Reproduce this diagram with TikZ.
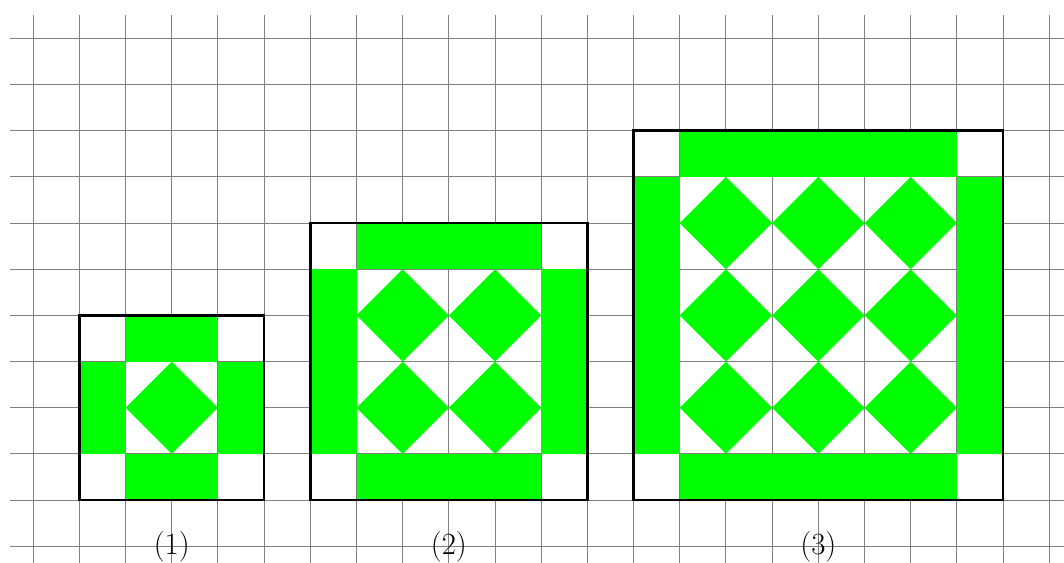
\documentclass[tikz,border=0pt]{standalone}
\usepackage{tikz}
\usetikzlibrary{positioning}
\tikzset{
  gridline/.style={gray, line width=0.6pt},
  band/.style={fill=green, draw=none},
  gem/.style={fill=green, draw=none},
  tilebox/.style={draw=black, line width=1.6pt},
  caption/.style={font=\fontsize{19}{22}\selectfont, inner sep=0pt},
}
\begin{document}
\begin{tikzpicture}
    \clip (-1.72,-1.36) rectangle (21.32,10.83);
    \draw[gridline] (-1.5,-1.5) grid (21.5,10.5);
    % the three tiles: left corner / diamonds per side / label
    \foreach \x/\n/\lab in {0/1/1, 5/2/2, 12/3/3}{
      \pgfmathsetmacro{\s}{2*\n+2}
      \pgfmathsetmacro{\e}{2*\n+1}
      \fill[band] (\x+1,0) rectangle (\x+\e,1);
      \fill[band] (\x+1,\e) rectangle (\x+\e,\s);
      \fill[band] (\x,1) rectangle (\x+1,\e);
      \fill[band] (\x+\e,1) rectangle (\x+\s,\e);
      \foreach \i in {1,...,\n}{
        \foreach \j in {1,...,\n}{
          \fill[gem] (\x+2*\i,2*\j-1) -- (\x+2*\i+1,2*\j)
                     -- (\x+2*\i,2*\j+1) -- (\x+2*\i-1,2*\j) -- cycle;
        }
      }
      \draw[tilebox] (\x,0) rectangle (\x+\s,\s);
      \node[caption] (lab\lab) at (\x+\n+1,-1) {(\lab)};
    }
\end{tikzpicture}
\end{document}
